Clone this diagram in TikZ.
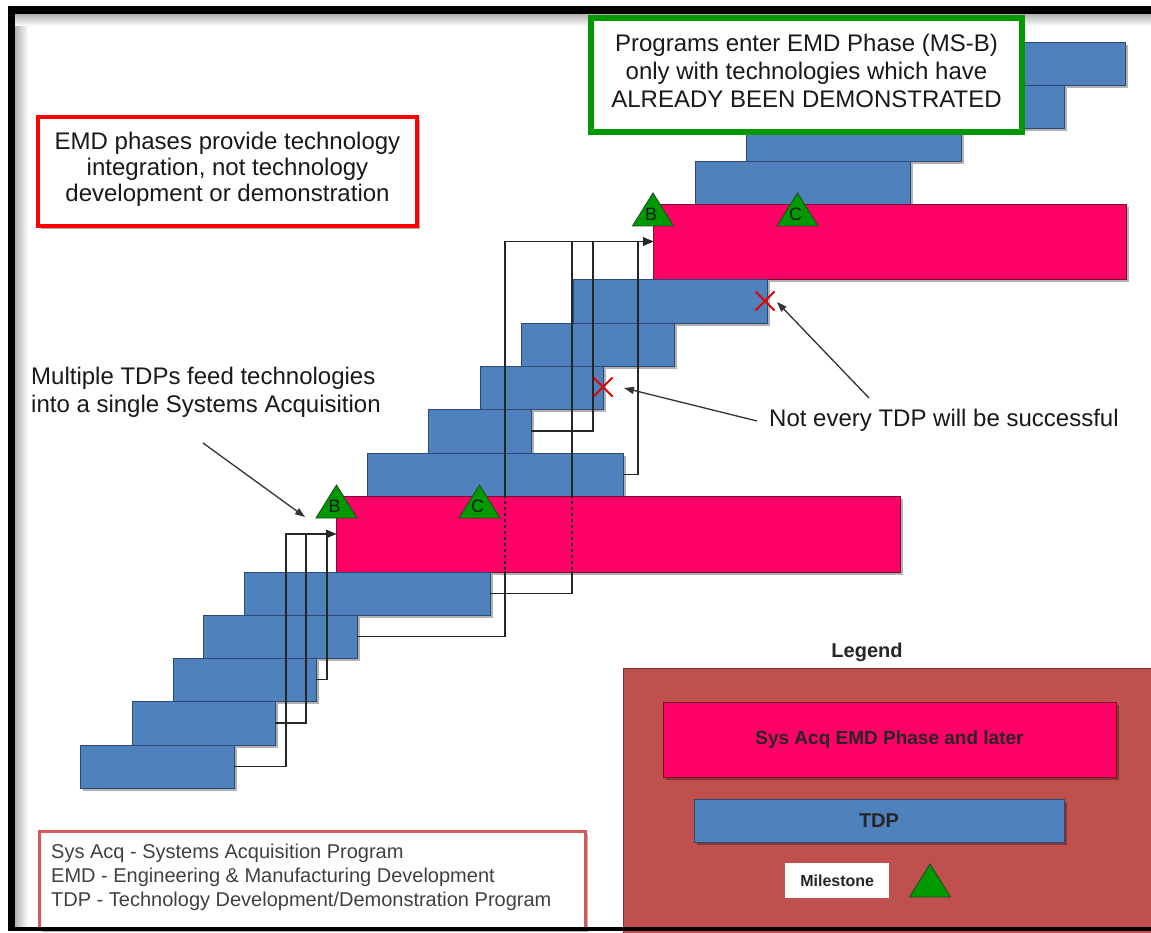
\documentclass[tikz,border=0pt]{standalone}
\usepackage{fontspec}
\setmainfont{Liberation Sans}
\usetikzlibrary{arrows.meta,shadows,shapes.misc,calc}
\definecolor{tdpblue}{HTML}{4F81BD}
\definecolor{tdpedge}{HTML}{2B4A72}
\definecolor{emdpink}{HTML}{FF0066}
\definecolor{emdedge}{HTML}{7A1030}
\definecolor{msgreen}{HTML}{009A00}
\definecolor{msedge}{HTML}{1E4D1E}
\definecolor{legbrown}{HTML}{C0504D}
\definecolor{legedge}{HTML}{7E3230}
\definecolor{boxgreen}{HTML}{009900}
\definecolor{abbrred}{HTML}{D65A5A}
\tikzset{
  barbase/.style={anchor=north west, inner sep=0pt, outer sep=0pt, line width=0.9pt,
    drop shadow={shadow xshift=3pt, shadow yshift=-3pt, opacity=0.3, fill=black}},
  tdpbar/.style={barbase, fill=tdpblue, draw=tdpedge},
  emdbar/.style={barbase, fill=emdpink, draw=emdedge},
  conn/.style={draw=black!85, line width=1.2pt},
  feed/.style={conn, -{Triangle[length=10pt,width=8pt]}},
  bigtext/.style={font=\fontsize{24}{26}\selectfont, align=center, text=black!90, inner sep=0pt},
  callout/.style={draw=black!80, line width=1.3pt, -{Triangle[length=10pt,width=7pt]}},
  xmark/.style={cross out, draw=red!90!black, line width=2pt, minimum size=17pt, inner sep=0pt},
  legtext/.style={font=\bfseries\fontsize{19}{22}\selectfont, text=black!85},
}
\newcommand\tdprect[6]{\node[#1, minimum width={(#5-#3)*1pt}, minimum height={(#6-#4)*1pt}] (#2) at (#3,#4) {};}
\newcommand\milestone[4]{%
  \filldraw[fill=msgreen, draw=msedge, line width=0.9pt] (#2-20.5,#3) -- (#2,#3-33) -- (#2+20.5,#3) -- cycle;
  \node[font=\fontsize{18}{18}\selectfont, text=black!90, inner sep=0pt] (#1) at (#2-2,#3-12) {#4};}
\begin{document}
\begin{tikzpicture}[x=1pt,y=-1pt]
\useasboundingbox (0,0) rectangle (1151,933);
\clip (0,0) rectangle (1151,933);
\fill[white] (0,0) rectangle (1151,933);
\shade[left color=black!30, right color=white] (15,14) rectangle (28,926);
\shade[top color=black!30, bottom color=white] (15,14) rectangle (1151,26);

% upper group
\tdprect{tdpbar}{U4}{850}{42}{1125}{85}
\tdprect{tdpbar}{U3}{800}{85}{1064}{128}
\tdprect{tdpbar}{U2}{746}{128}{961}{161}
\tdprect{tdpbar}{U1}{695}{161}{910}{204}
\tdprect{emdbar}{P2}{653}{204}{1126}{279}
% middle group
\tdprect{tdpbar}{M5}{573}{279}{767}{323}
\tdprect{tdpbar}{M4}{521}{323}{674}{366}
\tdprect{tdpbar}{M3}{480}{366}{603}{409}
\tdprect{tdpbar}{M2}{428}{409}{531}{453}
\tdprect{tdpbar}{M1}{367}{453}{623}{496}
\tdprect{emdbar}{P1}{336}{496}{900}{572}
% lower group
\tdprect{tdpbar}{L5}{244}{572}{490}{615}
\tdprect{tdpbar}{L4}{203}{615}{357}{658}
\tdprect{tdpbar}{L3}{173}{658}{316}{701}
\tdprect{tdpbar}{L2}{132}{701}{275}{745}
\tdprect{tdpbar}{L1}{80}{745}{234}{788}

% connector columns
\coordinate (cA) at (286,0);
\coordinate (cB) at (306,0);
\coordinate (cC) at (327,0);
\coordinate (cD) at (505,0);
\coordinate (cE) at (572,0);
\coordinate (cF) at (593,0);
\coordinate (cG) at (638,0);
\draw[feed] (L1.east) -| (cA |- P1.west) -- (P1.west);
\draw[feed] (L2.east) -| (cB |- P1.west) -- (P1.west);
\draw[feed] (L3.east) -| (cC |- P1.west) -- (P1.west);
\draw[feed] (L4.east) -| (cD |- P2.west) -- (P2.west);
\draw[feed] (L5.east) -| (cE |- P2.west) -- (P2.west);
\draw[feed] (M2.east) -| (cF |- P2.west) -- (P2.west);
\draw[feed] (M1.east) -| (cG |- P2.west) -- (P2.west);
\draw[emdpink, line width=2pt, dash pattern=on 3pt off 3pt] ($(cD |- P1.north)+(0,1.5)$) -- ($(cD |- P1.south)+(0,-1.5)$);
\draw[emdpink, line width=2pt, dash pattern=on 3pt off 3pt] ($(cE |- P1.north)+(0,1.5)$) -- ($(cE |- P1.south)+(0,-1.5)$);

% milestones
\milestone{B1}{336.5}{518}{B}
\milestone{C1}{479.5}{518}{C}
\milestone{B2}{653}{226}{B}
\milestone{C2}{797.5}{226}{C}

% failed TDPs
\node[xmark] (X1) at (603,387) {};
\node[xmark] (X2) at (765,301) {};

% green box
\node[draw=boxgreen, line width=6pt, fill=white, minimum width=431pt, minimum height=114pt, inner sep=0pt,
  drop shadow={shadow xshift=3pt, shadow yshift=-3pt, opacity=0.3, fill=black}] (gbox) at (806.5,75) {};
\node[bigtext] (gtext) at (806.5,71) {Programs enter EMD Phase (MS-B)\\[2pt] only with technologies which have\\[2pt] ALREADY BEEN DEMONSTRATED};

% red box
\node[draw=red, line width=4pt, fill=white, minimum width=379pt, minimum height=109pt, inner sep=0pt,
  drop shadow={shadow xshift=3pt, shadow yshift=-3pt, opacity=0.3, fill=black}] (rbox) at (227.5,171.5) {};
\node[bigtext] (rtext) at (227.5,169) {EMD phases provide technology\\ integration, not technology\\ development or demonstration};

% multiple TDPs callout
\node[bigtext, align=left, anchor=west, font=\fontsize{24}{28}\selectfont] (mtext) at (31,392) {Multiple TDPs feed technologies\\ into a single Systems Acquisition};
\coordinate (mt) at (203,443);
\coordinate (mh) at (305,517);
\draw[callout] (mt) -- (mh);

% not every TDP callout
\node[bigtext, anchor=west] (ntext) at (769,420) {Not every TDP will be successful};
\coordinate (n1t) at (757,421);
\coordinate (n1h) at (624,388);
\coordinate (n2t) at (869,398);
\coordinate (n2h) at (777,302);
\draw[callout] (n1t) -- (n1h);
\draw[callout] (n2t) -- (n2h);

% legend
\node[font=\bfseries\fontsize{20}{22}\selectfont, text=black!85] (legtitle) at (867,652) {Legend};
\node[anchor=north west, inner sep=0pt, outer sep=0pt, fill=legbrown, draw=legedge, line width=1pt,
  minimum width=560pt, minimum height=280pt] (legbox) at (623,668) {};
\node[emdbar, legtext, minimum width=453pt, minimum height=75pt] (legpink) at (663,702) {Sys Acq EMD Phase and later};
\node[tdpbar, legtext, font=\bfseries\fontsize{20}{22}\selectfont, minimum width=370pt, minimum height=43pt] (legtdp) at (694,799) {TDP};
\node[anchor=north west, inner sep=0pt, fill=white, minimum width=104pt, minimum height=35pt,
  font=\bfseries\fontsize{16}{18}\selectfont, text=black!85] (legms) at (785,863) {Milestone};
\milestone{legtri}{930}{897}{}

% abbreviations
\node[anchor=north west, draw=abbrred, line width=2.5pt, fill=white, minimum width=546pt, minimum height=98pt, inner sep=0pt,
  drop shadow={shadow xshift=3pt, shadow yshift=-3pt, opacity=0.3, fill=black}] (abox) at (38,830) {};
\node[anchor=west, align=left, inner sep=0pt, font=\fontsize{20}{24}\selectfont, text=black!75] (atext) at (51,877)
  {Sys Acq - Systems Acquisition Program\\ EMD - Engineering \& Manufacturing Development\\ TDP - Technology Development/Demonstration Program};

% frame
\fill[black] (8,6) rectangle (1151,14);
\fill[black] (8,6) rectangle (15,931);
\fill[black] (8,926.5) rectangle (1151,931);
\end{tikzpicture}
\end{document}
